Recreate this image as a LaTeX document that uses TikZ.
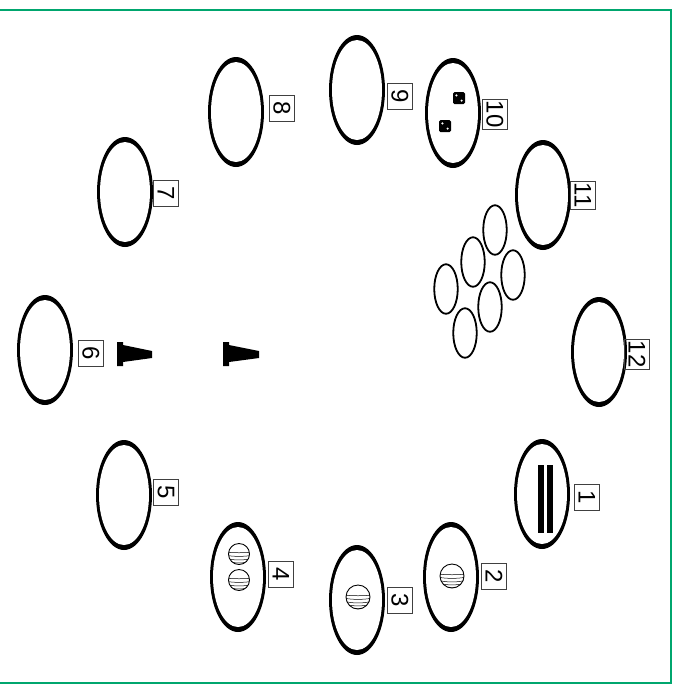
\documentclass[tikz,border=0pt]{standalone}
\usepackage{fontspec}
\setmainfont{Liberation Sans}
\usetikzlibrary{shapes.geometric}
\definecolor{framegreen}{RGB}{0,166,110}
\tikzset{
  bigoval/.style={ellipse, fill=black, minimum width=56pt, minimum height=110pt, inner sep=0pt,
    path picture={\fill[white] (path picture bounding box.center) ellipse [x radius=25pt, y radius=50pt];}},
  smalloval/.style={ellipse, draw=black, line width=1.8pt, minimum width=23.5pt, minimum height=49.5pt, inner sep=0pt},
  lbl/.style={draw=black!75, line width=0.7pt, rotate=-90, font=\fontsize{24}{24}\selectfont,
    inner sep=1.5pt, minimum width=26pt, minimum height=25pt},
  ball/.style={circle, draw=black, line width=0.9pt, minimum size=#1, inner sep=0pt,
    path picture={
      \foreach \dy/\sag in {2/1, -1/1.8, -4/2.6, -6.5/3.2, -9/3.8}
        \draw[line width=0.5pt] ([shift={(-15pt,\dy pt)}]path picture bounding box.center)
          .. controls +(9pt,-\sag pt) and +(-9pt,-\sag pt) ..
          ([shift={(15pt,\dy pt)}]path picture bounding box.center);
    }},
  die/.style={rectangle, fill=black, minimum size=12pt, inner sep=0pt, rounded corners=1.5pt,
    path picture={\fill[white] ([shift={(-2.6pt,2.6pt)}]path picture bounding box.center) circle (1.2pt)
      ([shift={(2.6pt,-2.6pt)}]path picture bounding box.center) circle (1.2pt);}},
  piece/.style={fill=black},
  barpiece/.style={fill=black}
}
\begin{document}
\begin{tikzpicture}[x=1pt,y=-1pt]
\useasboundingbox (0,0) rectangle (679,689);
\draw[framegreen, line width=2pt] (0,10) -- (671,10) -- (671,683) -- (0,683);

% big ovals
\node[bigoval] (o1) at (542,494) {};
\node[bigoval] (o2) at (451,577) {};
\node[bigoval] (o3) at (357,600) {};
\node[bigoval] (o4) at (238,577) {};
\node[bigoval] (o5) at (124,495) {};
\node[bigoval] (o6) at (45,350) {};
\node[bigoval] (o7) at (125,192) {};
\node[bigoval] (o8) at (236,112) {};
\node[bigoval] (o9) at (357,90) {};
\node[bigoval] (o10) at (453,113) {};
\node[bigoval] (o11) at (543,195) {};
\node[bigoval] (o12) at (599,352) {};

% labels
\node[lbl] (l1) at (587,497) {1};
\node[lbl] (l2) at (494,576) {2};
\node[lbl] (l3) at (400,600) {3};
\node[lbl] (l4) at (281,574) {4};
\node[lbl] (l5) at (166,492) {5};
\node[lbl] (l6) at (91,353) {6};
\node[lbl] (l7) at (166,193) {7};
\node[lbl] (l8) at (282,108) {8};
\node[lbl] (l9) at (400,96) {9};
\node[lbl] (l10) at (495,114) {10};
\node[lbl] (l11) at (583,195) {11};
\node[lbl] (l12) at (637,354) {12};

% bars in oval 1
\fill[barpiece] (538,465) rectangle (544,533);
\fill[barpiece] (547,465) rectangle (553,533);

% striped balls
\node[ball=24pt] (b2) at (452,576) {};
\node[ball=24pt] (b3) at (358,597) {};
\node[ball=21pt] (b4a) at (239,554) {};
\node[ball=21pt] (b4b) at (239,580) {};

% dice
\node[die] (d1) at (459,98) {};
\node[die] (d2) at (445,126) {};

% small ovals
\node[smalloval] (s1) at (495,230) {};
\node[smalloval] (s2) at (473,262) {};
\node[smalloval] (s3) at (513,275) {};
\node[smalloval] (s4) at (446,289) {};
\node[smalloval] (s5) at (490,307) {};
\node[smalloval] (s6) at (465,333) {};

% pieces
\fill[piece] (117,342) -- (123,342) -- (123,345) -- (152,351) -- (152,358) -- (123,362) -- (123,366) -- (117,366) -- cycle;
\fill[piece] (223,342) -- (229,342) -- (229,345) -- (259,351) -- (259,358) -- (229,362) -- (229,366) -- (223,366) -- cycle;
\end{tikzpicture}
\end{document}
